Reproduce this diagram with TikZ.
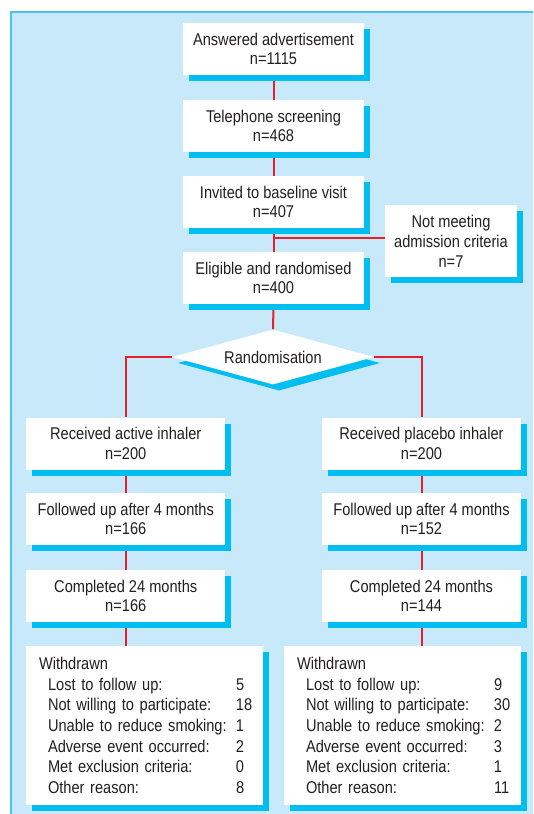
\documentclass[tikz,border=0pt]{standalone}
\usepackage{fontspec}
\setmainfont{Liberation Sans}[FakeStretch=0.86]
\usetikzlibrary{shapes.geometric,shadows,backgrounds}

\definecolor{panelblue}{RGB}{199,233,249}
\definecolor{frameblue}{RGB}{70,195,240}
\definecolor{shadowcyan}{RGB}{0,190,240}
\definecolor{linkred}{RGB}{232,30,40}
\definecolor{inkgrey}{RGB}{35,31,32}

\tikzset{
  stagebox/.style={fill=white, inner sep=0pt, align=center, text=inkgrey,
    font=\fontsize{17}{19.5}\selectfont,
    general shadow={fill=shadowcyan, shadow xshift=6pt, shadow yshift=-6pt}},
  mainbox/.style={stagebox, minimum width=181pt, minimum height=52pt},
  armbox/.style={stagebox, minimum width=199pt, minimum height=52pt},
  splitbox/.style={stagebox, diamond, aspect=3.7, minimum width=202pt, minimum height=55pt},
  withdrawnbox/.style={stagebox, align=left, inner xsep=13pt, text width=211pt,
    minimum height=159pt, font=\fontsize{17}{20.6}\selectfont},
  link/.style={draw=linkred, line width=2pt},
}
\newcommand{\reason}[2]{\hspace*{9pt}\makebox[188pt][l]{#1}#2}

\begin{document}
\begin{tikzpicture}[x=1pt, y=-1pt]
\useasboundingbox (0,0) rectangle (533,814);

% Main column
\node[mainbox] (answered) at (273.5,49) {Answered advertisement\\n=1115};
\node[mainbox] (screening) at (273.5,126) {Telephone screening\\n=468};
\node[mainbox] (invited) at (273.5,202) {Invited to baseline visit\\n=407};
\node[mainbox] (eligible) at (273.5,278) {Eligible and randomised\\n=400};
\node[stagebox, minimum width=132pt, minimum height=72pt, font=\fontsize{17}{20}\selectfont]
  (excluded) at (451,241) {Not meeting\\admission criteria\\n=7};
\node[splitbox] (randomise) at (273,357) {Randomisation};

% Two arms
\node[armbox] (active) at (125.75,443.5) {Received active inhaler\\n=200};
\node[armbox] (placebo) at (421.5,443.5) {Received placebo inhaler\\n=200};
\node[armbox] (activefollow) at (125.75,519) {Followed up after 4 months\\n=166};
\node[armbox] (placebofollow) at (421.5,519) {Followed up after 4 months\\n=152};
\node[armbox] (activedone) at (125.75,596) {Completed 24 months\\n=166};
\node[armbox] (placebodone) at (421.5,596) {Completed 24 months\\n=144};

% Withdrawals
\node[withdrawnbox, minimum width=237pt] (activewd) at (144.5,725.5) {Withdrawn\\
  \reason{Lost to follow up:}{5}\\
  \reason{Not willing to participate:}{18}\\
  \reason{Unable to reduce smoking:}{1}\\
  \reason{Adverse event occurred:}{2}\\
  \reason{Met exclusion criteria:}{0}\\
  \reason{Other reason:}{8}};
\node[withdrawnbox, minimum width=237pt] (placebowd) at (402.5,725.5) {Withdrawn\\
  \reason{Lost to follow up:}{9}\\
  \reason{Not willing to participate:}{30}\\
  \reason{Unable to reduce smoking:}{2}\\
  \reason{Adverse event occurred:}{3}\\
  \reason{Met exclusion criteria:}{1}\\
  \reason{Other reason:}{11}};

\coordinate (branch) at (273.5,238);

\begin{pgfonlayer}{background}
% Panel
\fill[panelblue] (11,12) rectangle (533,814);
\draw[frameblue, line width=1.5pt] (11,814) -- (11,12) -- (533,12);

% Connectors
\draw[link] (answered) -- (screening);
\draw[link] (screening) -- (invited);
\draw[link] (invited) -- (eligible);
\draw[link] (branch) -- (excluded.west |- branch);
\draw[link] (eligible) -- (randomise);
\draw[link] (randomise.west) -| (active.north);
\draw[link] (randomise.east) -| (placebo.north);
\draw[link] (active) -- (activefollow);
\draw[link] (placebo) -- (placebofollow);
\draw[link] (activefollow) -- (activedone);
\draw[link] (placebofollow) -- (placebodone);
\draw[link] (activedone.south) -- (activedone.south |- activewd.north);
\draw[link] (placebodone.south) -- (placebodone.south |- placebowd.north);
\end{pgfonlayer}
\end{tikzpicture}
\end{document}
